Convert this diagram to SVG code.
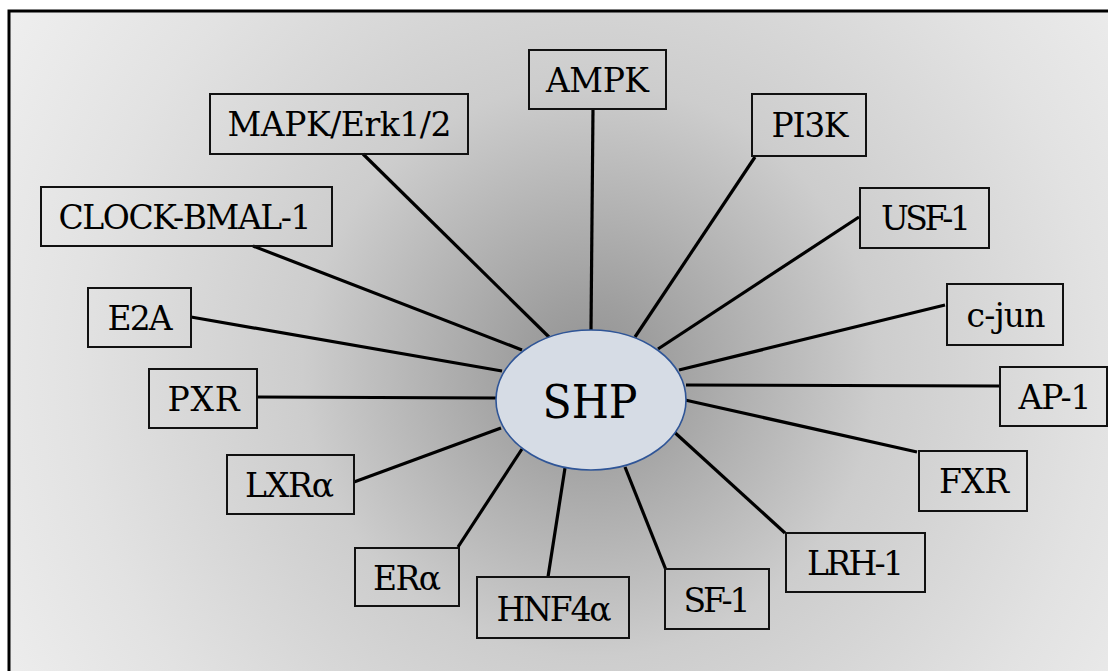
<svg xmlns="http://www.w3.org/2000/svg" width="1108" height="671" viewBox="0 0 1108 671">
  <defs>
    <radialGradient id="bg" gradientUnits="userSpaceOnUse" cx="590" cy="370" r="700">
      <stop offset="0" stop-color="#929292"/>
      <stop offset="0.1" stop-color="#9f9f9f"/>
      <stop offset="0.41" stop-color="#cdcdcd"/>
      <stop offset="0.73" stop-color="#e2e2e2"/>
      <stop offset="1" stop-color="#f0f0f0"/>
    </radialGradient>
    <style>
      .box { fill: none; stroke: #111; stroke-width: 2; }
      .lbl { font-family: "DejaVu Serif", "Liberation Serif", serif; font-size: 33px; fill: #000; text-anchor: middle; }
      .link { stroke: #000; stroke-width: 3.2; stroke-linecap: butt; }
      .hub { fill: #d6dce5; stroke: #2f5597; stroke-width: 1.6; }
      .hubtxt { font-family: "DejaVu Serif", "Liberation Serif", serif; font-size: 46px; fill: #000; text-anchor: middle; }
    </style>
  </defs>

  <!-- panel -->
  <rect x="0" y="0" width="1108" height="671" fill="#ffffff"/>
  <rect x="9" y="11" width="1110" height="680" fill="url(#bg)" stroke="#000" stroke-width="3"/>

  <!-- spokes from the hub to each partner -->
  <g id="connectors">
    <line class="link" x1="593" y1="108" x2="591" y2="330"/>
    <line class="link" x1="363" y1="154" x2="549" y2="337"/>
    <line class="link" x1="755" y1="157" x2="635" y2="337"/>
    <line class="link" x1="859" y1="217" x2="658" y2="349"/>
    <line class="link" x1="253" y1="246" x2="522" y2="350"/>
    <line class="link" x1="191" y1="317" x2="502" y2="371"/>
    <line class="link" x1="257" y1="397" x2="496" y2="398"/>
    <line class="link" x1="354" y1="482" x2="501" y2="428"/>
    <line class="link" x1="458" y1="547" x2="522" y2="449"/>
    <line class="link" x1="548" y1="577" x2="565" y2="468"/>
    <line class="link" x1="666" y1="570" x2="625" y2="467"/>
    <line class="link" x1="785" y1="533" x2="672" y2="430"/>
    <line class="link" x1="917" y1="452" x2="685" y2="400"/>
    <line class="link" x1="999" y1="386" x2="686" y2="385"/>
    <line class="link" x1="945" y1="305" x2="679" y2="370"/>
  </g>

  <g id="shp">
    <ellipse class="hub" cx="591" cy="400" rx="95" ry="70"/>
    <text class="hubtxt" x="590" y="418" textLength="95" lengthAdjust="spacingAndGlyphs">SHP</text>
  </g>

  <g id="ampk">
    <rect class="box" x="529" y="50" width="137" height="59"/>
    <text class="lbl" x="597.5" y="91.5" textLength="103">AMPK</text>
  </g>
  <g id="mapk">
    <rect class="box" x="210" y="94" width="258" height="60"/>
    <text class="lbl" x="339.5" y="135.5" textLength="224">MAPK/Erk1/2</text>
  </g>
  <g id="pi3k">
    <rect class="box" x="752" y="94" width="114" height="62"/>
    <text class="lbl" x="810" y="137" textLength="77">PI3K</text>
  </g>
  <g id="clock">
    <rect class="box" x="41" y="187" width="291" height="59"/>
    <text class="lbl" x="185" y="229" textLength="253">CLOCK-BMAL-1</text>
  </g>
  <g id="usf1">
    <rect class="box" x="860" y="188" width="129" height="60"/>
    <text class="lbl" x="926" y="230" textLength="90">USF-1</text>
  </g>
  <g id="e2a">
    <rect class="box" x="88" y="288" width="103" height="59"/>
    <text class="lbl" x="140" y="330" textLength="65">E2A</text>
  </g>
  <g id="cjun">
    <rect class="box" x="947" y="284" width="116" height="61"/>
    <text class="lbl" x="1006" y="327" textLength="79">c-jun</text>
  </g>
  <g id="pxr">
    <rect class="box" x="149" y="369" width="108" height="59"/>
    <text class="lbl" x="203.5" y="411" textLength="72">PXR</text>
  </g>
  <g id="ap1">
    <rect class="box" x="1000" y="367" width="107" height="59"/>
    <text class="lbl" x="1055" y="409" textLength="73">AP-1</text>
  </g>
  <g id="lxra">
    <rect class="box" x="227" y="455" width="127" height="59"/>
    <text class="lbl" x="289.5" y="497" textLength="89">LXRα</text>
  </g>
  <g id="fxr">
    <rect class="box" x="919" y="451" width="108" height="60"/>
    <text class="lbl" x="974" y="493" textLength="70">FXR</text>
  </g>
  <g id="lrh1">
    <rect class="box" x="786" y="533" width="139" height="59"/>
    <text class="lbl" x="855.5" y="575" textLength="97">LRH-1</text>
  </g>
  <g id="era">
    <rect class="box" x="355" y="548" width="104" height="58"/>
    <text class="lbl" x="407" y="590" textLength="68">ERα</text>
  </g>
  <g id="sf1">
    <rect class="box" x="665" y="569" width="104" height="60"/>
    <text class="lbl" x="717" y="612" textLength="67">SF-1</text>
  </g>
  <g id="hnf4a">
    <rect class="box" x="477" y="577" width="152" height="61"/>
    <text class="lbl" x="554" y="620.5" textLength="115">HNF4α</text>
  </g>
</svg>
